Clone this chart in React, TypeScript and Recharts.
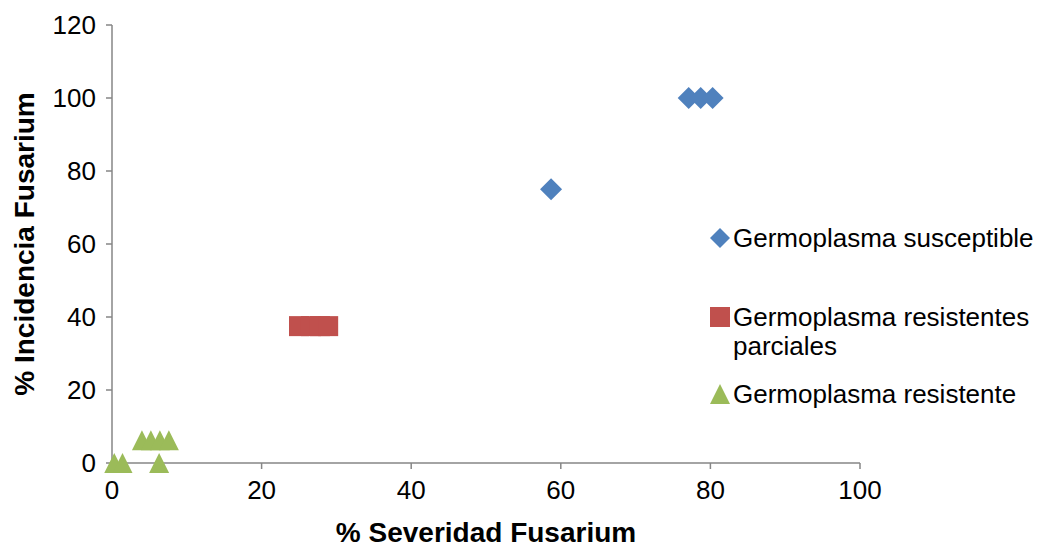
import React from "react";
import { ScatterChart, Scatter, XAxis, YAxis, Label } from "recharts";

const susceptible = [
  { x: 58.7, y: 75 },
  { x: 77.1, y: 100 },
  { x: 78.7, y: 100 },
  { x: 80.3, y: 100 },
];

const parciales = [
  { x: 25.0, y: 37.5 },
  { x: 26.6, y: 37.5 },
  { x: 27.8, y: 37.5 },
  { x: 28.9, y: 37.5 },
];

const resistente = [
  { x: 0.3, y: 0 },
  { x: 1.4, y: 0 },
  { x: 6.3, y: 0 },
  { x: 4.0, y: 6.25 },
  { x: 5.2, y: 6.25 },
  { x: 6.4, y: 6.25 },
  { x: 7.6, y: 6.25 },
];

const xTicks = [0, 20, 40, 60, 80, 100];
const yTicks = [0, 20, 40, 60, 80, 100, 120];

const BLUE = "#4F81BD";
const RED = "#C0504D";
const GREEN = "#9BBB59";
const AXIS = "#868686";
const FONT = "'Liberation Sans', Arial, sans-serif";

const Diamond = (p: any) => (
  <polygon
    points={`${p.cx},${p.cy - 11} ${p.cx + 11},${p.cy} ${p.cx},${p.cy + 11} ${p.cx - 11},${p.cy}`}
    fill={BLUE}
  />
);

const Square = (p: any) => (
  <rect x={p.cx - 10} y={p.cy - 10} width={20} height={20} fill={RED} />
);

const Triangle = (p: any) => (
  <polygon
    points={`${p.cx},${p.cy - 10} ${p.cx + 10},${p.cy + 10} ${p.cx - 10},${p.cy + 10}`}
    fill={GREEN}
  />
);

const legendItems = [
  { name: "Germoplasma susceptible", color: BLUE, kind: "diamond", top: 224 },
  { name: "Germoplasma resistentes\nparciales", color: RED, kind: "square", top: 303 },
  { name: "Germoplasma resistente", color: GREEN, kind: "triangle", top: 380 },
];

function LegendMarker({ kind, color }: { kind: string; color: string }) {
  return (
    <svg width={22} height={22} style={{ position: "absolute", left: 0, top: 3 }}>
      {kind === "diamond" && <polygon points="11,1 21,11 11,21 1,11" fill={color} />}
      {kind === "square" && <rect x={1} y={1} width={20} height={20} fill={color} />}
      {kind === "triangle" && <polygon points="11,1 21,21 1,21" fill={color} />}
    </svg>
  );
}

export default function App() {
  const tick = { fontSize: 26, fill: "#000", fontFamily: FONT };
  return (
    <div style={{ position: "absolute", left: 0, top: 0, width: 1043, height: 547, background: "#fff" }}>
      <ScatterChart width={1043} height={547} margin={{ top: 25, right: 183, bottom: 0, left: 0 }}>
        <XAxis
          type="number"
          dataKey="x"
          domain={[0, 100]}
          ticks={xTicks}
          height={84}
          stroke={AXIS}
          strokeWidth={1.5}
          tickSize={6}
          tickMargin={12}
          tick={tick}
        >
          <Label
            value="% Severidad Fusarium"
            position="insideBottom"
            offset={5}
            style={{ fontSize: 28, fontWeight: "bold", fill: "#000", fontFamily: FONT }}
          />
        </XAxis>
        <YAxis
          type="number"
          dataKey="y"
          domain={[0, 120]}
          ticks={yTicks}
          width={112}
          stroke={AXIS}
          strokeWidth={1.5}
          tickSize={6}
          tickMargin={10}
          tick={tick}
        >
          <Label
            value="% Incidencia Fusarium"
            angle={-90}
            position="insideLeft"
            offset={24}
            style={{ fontSize: 28, fontWeight: "bold", fill: "#000", fontFamily: FONT, textAnchor: "middle" }}
          />
        </YAxis>
        <Scatter data={susceptible} shape={Diamond} isAnimationActive={false} />
        <Scatter data={parciales} shape={Square} isAnimationActive={false} />
        <Scatter data={resistente} shape={Triangle} isAnimationActive={false} />
      </ScatterChart>
      {legendItems.map((it) => (
        <div
          key={it.name}
          style={{
            position: "absolute",
            left: 709,
            top: it.top,
            paddingLeft: 24,
            fontFamily: FONT,
            fontSize: 26,
            lineHeight: "29px",
            whiteSpace: "pre",
            color: "#000",
          }}
        >
          <LegendMarker kind={it.kind} color={it.color} />
          {it.name}
        </div>
      ))}
    </div>
  );
}
